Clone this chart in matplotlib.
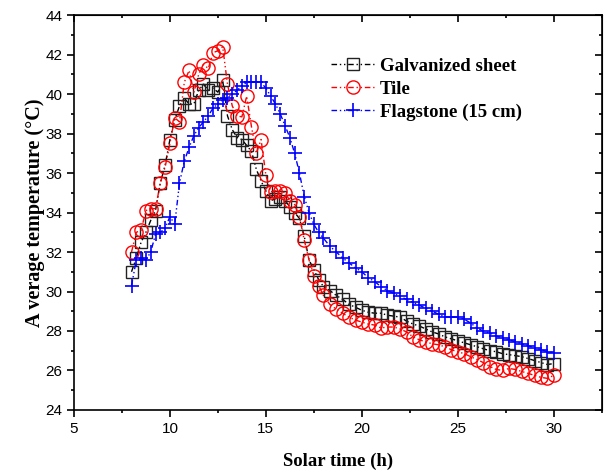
import matplotlib
matplotlib.use("Agg")
import matplotlib.pyplot as plt

# solar time (h): 15 min steps in the morning, 20 min steps later on
hours = [8.00, 8.25, 8.50, 8.75, 9.00, 9.25, 9.50, 9.75, 10.00, 10.25,
         10.50, 10.75, 11.00, 11.25, 11.50, 11.75, 12.00, 12.25, 12.50, 12.75,
         13.00, 13.25, 13.50, 13.75, 14.00, 14.25, 14.50, 14.75, 15.00, 15.25,
         15.50, 15.75, 16.00, 16.25, 16.50, 16.75, 17.00, 17.25, 17.50, 17.75,
         18.00,
         18.33, 18.67, 19.00, 19.33, 19.67, 20.00, 20.33, 20.67, 21.00, 21.33,
         21.67, 22.00, 22.33, 22.67, 23.00, 23.33, 23.67, 24.00, 24.33, 24.67,
         25.00, 25.33, 25.67, 26.00, 26.33, 26.67, 27.00, 27.33, 27.67, 28.00,
         28.33, 28.67, 29.00, 29.33, 29.67, 30.00]

galvanized = [31.0, 31.7, 32.5, 33.0, 33.6, 34.1, 35.5, 36.4, 37.7, 38.7,
              39.4, 39.8, 39.5, 39.5, 40.2, 40.5, 40.2, 40.3, 40.1, 40.7,
              38.9, 38.2, 37.8, 37.7, 37.4, 37.1, 36.2, 35.6, 35.1, 34.6,
              34.7, 34.8, 34.6, 34.3, 34.0, 33.7, 32.8, 31.6, 31.1, 30.6,
              30.25,
              30.05, 29.8, 29.6, 29.35, 29.2, 29.05, 28.95, 28.9, 28.9, 28.8,
              28.75, 28.7, 28.5, 28.35, 28.25, 28.1, 27.95, 27.85, 27.7, 27.6,
              27.5, 27.4, 27.3, 27.2, 27.1, 27.0, 26.95, 26.85, 26.8, 26.75,
              26.7, 26.6, 26.5, 26.4, 26.3, 26.35]

tile = [32.0, 33.0, 33.1, 34.1, 34.2, 34.2, 35.5, 36.3, 37.5, 38.8,
        38.6, 40.6, 41.2, 40.1, 41.0, 41.5, 41.3, 42.1, 42.2, 42.4,
        40.5, 39.4, 38.9, 38.85, 39.9, 38.35, 37.0, 37.7, 35.9, 35.05,
        35.1, 35.1, 35.0, 34.6, 34.4, 33.8, 32.6, 31.6, 30.8, 30.3,
        29.8,
        29.35, 29.1, 28.9, 28.7, 28.55, 28.45, 28.35, 28.3, 28.15, 28.2,
        28.2, 28.1, 27.95, 27.7, 27.55, 27.45, 27.35, 27.3, 27.2, 27.05,
        26.95, 26.85, 26.7, 26.55, 26.4, 26.2, 26.05, 26.0, 26.1, 26.05,
        25.95, 25.85, 25.75, 25.65, 25.6, 25.75]

flagstone = [30.3, 31.6, 31.7, 31.6, 32.0, 32.9, 33.0, 33.2, 33.8, 33.4,
             35.5, 36.6, 37.3, 37.9, 38.3, 38.6, 38.9, 39.3, 39.5, 39.7,
             39.8, 40.0, 40.2, 40.4, 40.6, 40.6, 40.6, 40.6, 40.3, 39.9,
             39.5, 39.0, 38.4, 37.8, 37.0, 36.0, 34.8, 34.0, 33.4, 33.0,
             32.7,
             32.3, 32.0, 31.7, 31.45, 31.2, 31.0, 30.7, 30.5, 30.25, 30.05,
             29.9, 29.75, 29.6, 29.45, 29.3, 29.15, 29.0, 28.85, 28.7, 28.7,
             28.7, 28.6, 28.4, 28.15, 28.0, 27.9, 27.75, 27.65, 27.55, 27.45,
             27.35, 27.25, 27.15, 27.05, 26.95, 26.9]

dashdotdot = (4, 2, 1, 2, 1, 2)

fig = plt.figure(figsize=(6.06, 4.75), dpi=100)
ax = fig.add_axes([0.122, 0.137, 0.871, 0.831])

ax.plot(hours, galvanized, color='black', ls=(0, dashdotdot), lw=1.0,
        marker='s', ms=9, mfc='none', mec='#222222', mew=1.0,
        label='Galvanized sheet')
ax.plot(hours, tile, color='red', ls=(0, dashdotdot), lw=1.0,
        marker='o', ms=9.5, mfc='none', mec='red', mew=1.0, label='Tile')
ax.plot(hours, flagstone, color='blue', ls=(0, dashdotdot), lw=1.0,
        marker='+', ms=9.5, mec='blue', mew=1.2, label='Flagstone (15 cm)')

ax.set_xlim(5, 32.4)
ax.set_ylim(24, 44)
ax.set_xticks([5, 10, 15, 20, 25, 30])
ax.set_xticks([7.5, 12.5, 17.5, 22.5, 27.5, 32.5], minor=True)
ax.set_yticks(range(24, 45, 2))
ax.set_yticks(range(25, 44, 2), minor=True)

ax.tick_params(which='both', direction='out', width=1.2,
               labelsize=11, labelfontfamily='Liberation Sans')
ax.tick_params(which='major', length=5)
ax.tick_params(which='minor', length=2.5)
for s in ax.spines.values():
    s.set_linewidth(1.2)

top = ax.secondary_xaxis('top')
top.set_xticks([5, 10, 15, 20, 25, 30])
top.set_xticks([7.5, 12.5, 17.5, 22.5, 27.5, 32.5], minor=True)
top.tick_params(which='both', direction='in', labeltop=False, width=1.2)
top.tick_params(which='major', length=5)
top.tick_params(which='minor', length=2.5)
right = ax.secondary_yaxis('right')
right.set_yticks(range(24, 45, 2))
right.set_yticks(range(25, 44, 2), minor=True)
right.tick_params(which='both', direction='in', labelright=False, width=1.2)
right.tick_params(which='major', length=5)
right.tick_params(which='minor', length=2.5)

ax.set_xlabel('Solar time (h)', labelpad=12, family='Liberation Serif',
              weight='bold', size=13.5)
ax.set_ylabel('A verage temperature (\u00b0C)', labelpad=0,
              family='Liberation Serif', weight='bold', size=14.5)

ax.legend(loc='upper left', bbox_to_anchor=(0.455, 0.935), frameon=False,
          prop=dict(family='Liberation Serif', weight='bold', size=13.5),
          handlelength=2.3, handletextpad=0.3, labelspacing=0.3)

fig.savefig('out.png', dpi=100)
